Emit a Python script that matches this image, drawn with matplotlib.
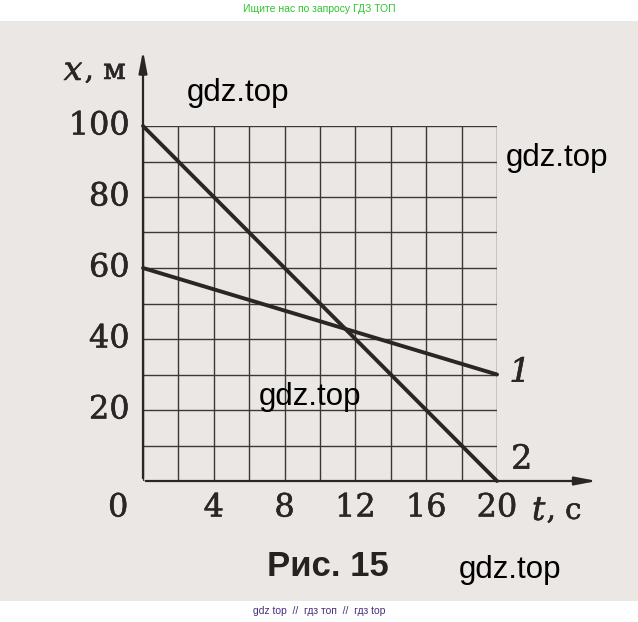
import numpy as np
import matplotlib
matplotlib.use("Agg")
import matplotlib.pyplot as plt
import matplotlib.patheffects as pe
from matplotlib.patches import Rectangle

# data
t_ticks = [4, 8, 12, 16, 20]
x_ticks = [20, 40, 60, 80, 100]
grid_t = np.arange(0, 21, 2)
grid_x = np.arange(0, 101, 10)

t_1 = [0, 20]
x_1 = [60, 30]
t_2 = [0, 20]
x_2 = [100, 0]

INK = "#2b2626"
BG = "#ebe7e4"
SERIF = "DejaVu Serif"
bold_fx = [pe.withStroke(linewidth=0.4, foreground=INK)]

fig = plt.figure(figsize=(6.38, 6.22), dpi=100)
fig.patch.set_facecolor("white")

# scanned page area
fig.patches.append(Rectangle((0, 21 / 622), 1, 1 - 42 / 622, transform=fig.transFigure,
                             facecolor=BG, edgecolor="none", zorder=-10))

ax = fig.add_axes([143 / 638, 1 - 481 / 622, 354 / 638, 355 / 622])
ax.set_xlim(0, 20)
ax.set_ylim(0, 100)
ax.axis("off")

# grid
ax.vlines(grid_t, 0, 100, color="#3d3838", lw=1.0)
ax.hlines(grid_x, 0, 20, color="#3d3838", lw=1.0)

# axes with arrows
ax.annotate("", xy=(25.8, 0), xytext=(0, 0), annotation_clip=False,
            arrowprops=dict(arrowstyle="-|>,head_length=1.3,head_width=0.25", color=INK, lw=1.6))
ax.annotate("", xy=(0, 122), xytext=(0, 0), annotation_clip=False,
            arrowprops=dict(arrowstyle="-|>,head_length=1.3,head_width=0.25", color=INK, lw=1.6))

# lines
ax.plot(t_1, x_1, color=INK, lw=2.8, solid_capstyle="round", clip_on=False)
ax.plot(t_2, x_2, color=INK, lw=2.8, solid_capstyle="round", clip_on=False)

# tick labels
lab = dict(fontsize=23, family=SERIF, color=INK, clip_on=False, path_effects=bold_fx)
for t in t_ticks:
    ax.text(t, -7.6, str(t), ha="center", va="center", **lab)
ax.text(-1.4, -7.6, "0", ha="center", va="center", **lab)
for v in x_ticks:
    ax.text(-0.75, v, str(v), ha="right", va="center", **lab)

# axis names
ax.text(-3.95, 115.5, "x", ha="center", va="center", fontsize=24, family=SERIF, style="italic",
        color=INK, path_effects=bold_fx)
ax.text(-3.3, 115.5, ", м", ha="left", va="center", fontsize=21, family=SERIF, color=INK,
        path_effects=bold_fx)
ax.text(22.35, -8.4, "t", ha="center", va="center", fontsize=24, family=SERIF, style="italic",
        color=INK, path_effects=bold_fx)
ax.text(22.8, -8.4, ", с", ha="left", va="center", fontsize=21, family=SERIF, color=INK,
        path_effects=bold_fx)

# line labels
ax.text(21.3, 30.5, "1", ha="center", va="center", fontsize=24, family=SERIF, style="italic",
        color=INK, path_effects=bold_fx)
ax.text(21.4, 6, "2", ha="center", va="center", fontsize=24, family=SERIF, color=INK,
        path_effects=bold_fx)

# caption
fig.text(328 / 638, 1 - 566 / 622, "Рис. 15", ha="center", va="center", fontsize=25,
         family="Liberation Sans", weight="bold", color="#262222")

# watermarks
for xp, yp in [(238, 93), (557, 158), (310, 397), (510, 570)]:
    fig.text(xp / 638, 1 - yp / 622, "gdz.top", ha="center", va="center", fontsize=22.5,
             family="Liberation Sans", color="black")

fig.text(0.5, 1 - 9 / 622, "Ищите нас по запросу ГДЗ ТОП", ha="center", va="center",
         fontsize=7.5, family="Liberation Sans", color="#2ec52e")
fig.text(0.5, 1 - 611 / 622, "gdz top  //  гдз топ  //  гдз top", ha="center", va="center",
         fontsize=7.5, family="Liberation Sans", color="#4a2d7d")

fig.savefig("out.png", dpi=100, facecolor=fig.get_facecolor())
